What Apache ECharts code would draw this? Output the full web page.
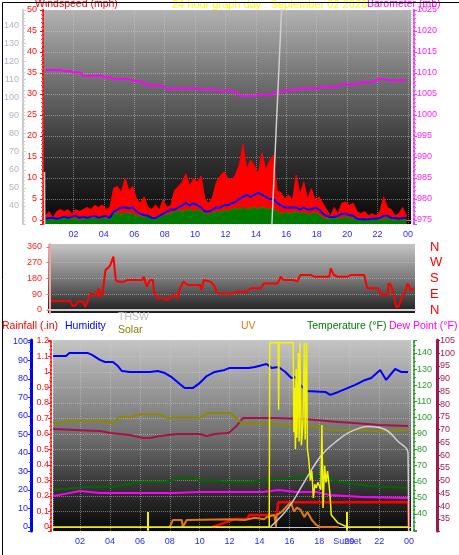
<!DOCTYPE html>
<html><head><meta charset="utf-8">
<script src="https://cdn.jsdelivr.net/npm/echarts@6/dist/echarts.min.js"></script>
<style>html,body{margin:0;padding:0;background:#fff}#c{width:459px;height:555px}</style>
</head><body><div id="c"></div>
<script>
// ---------------- DATA ----------------
const hourTickLabels = ['02','04','06','08','10','12','14','16','18','20','22','00'];
const dirTicks = [0, 90, 180, 270, 360];
const compassLabels = {0: 'N', 90: 'E', 180: 'S', 270: 'W', 360: 'N'};
const sunEventHours = [6.55, 19.86];
const sunsetLabel = 'Sunset';

// wind, 15-minute slots starting 00:09
const windStartHour = 0.15, windSlotHours = 0.25;
const windGust = [1,2,0.5,2,2.5, 2,2.5,1.5,2.5,2,2.5, 3,2.5,3.5,3,3.6,2.5,3, 7.6, 8,6.5,10,7,8, 5,4,5.5,
  3,2.5,3.6,2.4,4.8,3,3.5, 7,8,9, 11,8,10,9,10.5, 5,4,5.5, 9,10.5,11.5,
  10,9.5,10.7,13,18,12,14.3,13,11,16,12,14,15.5,7,6.5,5,6,4.5,10.7,6,9,5,7.5,4.5,5.5,4,2.5,1,3,1.5,
  4,4.3,3.5,4,2,1.5,2,1,1.5,1,2,5.5,3,2.5,1,1.5,3,1];
const windAvg = [0.3,0.5,0.5,0.3,0.5, 0.8,0.5,0.8,1,0.5,0.8, 0.5,0.8,1,0.5,0.8,1,0.5, 2, 2.5,3,3,2.8,3, 2,1.5,1.2,
  1,0.5,0.5,1,1.5,2,2.5, 2.5,3,3.5, 4,3.5,4,3.5,3, 2,2,2.5, 3,3,3.5,3.5, 4,4.3,5,
  5.5,6,5.5,6,6.5,6,5.5,5,5, 4,3.5,3,3,3, 3,2.5,3,2.5,2.5,3,2.5, 1.5,1,0.7,0.7,1, 1.5,1.5,1.2,1,
  0.3,0.2,0.2,0.2,0.3,0.3,0.5, 1,1, 0.5,0.5,0.3,0.5,0.5];
const windSpeed = [0.2,0.3,0,0.3,0.2,0.3,0.5,0.2,0.3,0,0.3,0.2,0.5,0.3,0.2,0.5,0.3,0.2,
  1.5,1.7,1.3,1.7,1.5,1.6, 0.8,1,0.5,1,0.7,0.3,0.5,1,1.3,1.5, 2,2.2,2,2.3,2.5,2,2.4,2,
  1.5,1.3,1.7,2,1.8,2.3,2, 2.5,2.8,2.5,3,2.5,2.8,3,2.6,3,2.8,2.5,2.8,
  2,1.5,1.8,1.5,1.7,2,1.5,1.8,1.3,1.5,1.7,1.3, 0.5,0.3,0.2,0.5,0.3,0.5,0.7,0.5,0.3,
  0,0,0,0,0,0,0,0.3,0.3,0,0,0,0,0];

const baroHours = [0.16,1.15,1.35,1.8,1.94,2.46,2.66,3.58,3.78,3.97,4.43,4.63,5.55,5.94,6.4,6.86,7.71,8.17,10.14,10.34,10.8,10.86,11.0,11.46,12.31,12.7,12.9,14.02,14.22,15.07,15.33,15.73,15.99,16.65,16.84,17.96,18.35,19.27,19.66,20.58,20.98,21.63,22.09,22.29,22.75,23.9];
const baroValues = [1010.7,1010.7,1010.5,1010.5,1010.1,1010.1,1009.3,1009.3,1009.5,1009.0,1009.0,1008.6,1008.6,1008.1,1008.1,1007.1,1007.1,1006.3,1006.3,1006.1,1006.1,1006.5,1006.2,1005.8,1005.8,1005.5,1004.6,1004.6,1004.9,1004.9,1005.5,1005.5,1005.95,1005.95,1006.3,1006.3,1006.7,1006.7,1007.3,1007.3,1007.8,1007.8,1008.6,1008.6,1008.3,1008.3];

const thswTopHours = [0.1, 0.12, 15.0, 15.75];
const thswTopValues = [58.8, 20, 20, 160];

const dirHours = [0.1,1.35,1.5,1.7,1.85,2.2,2.35,2.5,2.7,2.95,3.15,3.22,3.36,3.5,3.68,3.82,4.0,4.2,4.3,4.36,4.5,4.9,5.1,6.1,6.2,6.4,6.6,6.8,6.86,7.1,7.5,7.75,7.95,8.15,8.4,8.6,8.8,9.1,9.9,10.0,10.15,10.6,10.8,11.05,12.1,12.3,13.0,13.2,13.9,14.1,15.0,15.2,15.4,16.05,16.3,16.5,17.2,17.4,18.4,18.5,18.7,18.95,19.6,19.8,20.7,20.9,21.6,21.8,22.25,22.3,22.45,22.6,22.8,22.95,23.2,23.4,23.55,23.75,24.0];
const dirValues = [51,51,25,25,48,48,19,48,95,86,86,124,76,100,229,238,257,305,295,171,162,162,171,171,190,133,171,171,105,67,67,57,76,86,67,124,162,143,143,114,171,162,143,95,95,105,105,124,124,152,152,190,171,171,162,200,200,190,190,238,200,190,190,200,200,124,124,86,86,152,143,105,19,19,76,105,152,114,124];

const humHours = [0.2,1.07,1.27,2.53,2.8,3.33,3.67,4.2,4.53,4.8,5.33,6.67,7.2,7.67,8.13,8.67,9.0,9.53,10.0,10.47,11.0,11.67,12.0,13.27,13.7,14.47,14.8,15.27,15.73,16.13,16.4,16.73,17.13,18.4,18.73,19.27,20.4,21.07,21.47,22.07,22.47,23.07,23.47,23.93];
const humValues = [92.4,92.4,94,94,93,90.3,89.2,89.2,87,84.3,83.8,83.8,84.3,83.2,81,77.3,75.1,75.1,77.8,81.6,83.8,84.9,86,86,86.5,88.1,86,86.5,83.8,80.5,81,76.8,73.5,73,71.4,73,76.8,79.5,80.5,84.9,79.5,85.4,83.8,83.8];

const rainHours = [10.85,11.3,11.6,12.0,12.4,13.2,13.3,15.15,15.25,23.95,24.0];
const rainValues = [0,0.015,0.025,0.04,0.052,0.052,0.077,0.077,0.16,0.16,0];

const tempHours = [0.2,2.67,4.33,5.33,6.0,7.67,8.33,9.0,10.0,11.0,11.93,13.33,14.67,15.67,16.67,17.67,18.5,19.33,20.67,22.0,23.93];
const tempValues = [55,56.9,56.9,58.8,60,60,61.3,63.1,61.3,60.6,60,60,61.3,61.9,63.1,63.75,62.5,60,58.1,56.9,56.25];

const dewHours = [0.2,1.0,2.0,3.34,8.2,10.0,12.0,14.2,15.3,16.4,17.8,18.7,20.9,23.95];
const dewValues = [51.2,52.5,54.3,53,53,53.7,53.7,53.7,54.9,53.7,53.7,51.8,50.6,49.9];

const inTempHours = [0.2,2.0,3.33,4.0,5.33,6.2,6.67,7.33,8.47,10.0,10.47,11.0,11.93,12.4,12.9,15.0,17.0,19.27,20.33,22.0,23.93];
const inTempValues = [70.2,69.8,69.5,68.7,67.9,66.7,66.7,67.5,68.3,68.3,67.5,68.3,68.7,71,74.6,74.6,74.2,73,72.6,71.8,71.4];

const inHumHours = [0.2,0.8,1.1,3.9,4.05,4.3,4.6,5.5,6.0,7.3,7.8,10.0,10.5,12.0,12.4,12.9,13.5,15.0,16.0,17.0,18.0,19.0,20.5,22.0,23.95];
const inHumValues = [56.2,56.2,57.3,57.3,56.2,56.2,59.5,59.5,61,61,59,59,61.6,61.6,59,55.7,56.2,55.7,54.6,54.6,54.1,52.4,52.4,51.9,52.4];

const uvHours = [8.0,8.2,8.8,8.87,9.0,9.13,12.0,13.0,13.7,14.3,14.5,15.0,15.1,15.15,15.5,15.85,16.1,16.3,16.5,16.75,17.0,17.2,17.5,17.8,18.05,19.3];
const uvValues = [0,0.45,0.45,0,0,0.45,0.5,0.45,0.6,0.5,0.65,0.77,0,0.75,1.0,1.35,1.6,1.0,1.25,1.1,0.65,0.97,0.45,0.13,0,0];

const solarHours = [0.19,14.65,14.68,15.25,15.28,15.31,16.25,16.3,16.35,16.4,16.45,16.5,16.6,16.65,16.7,16.8,16.9,17.0,17.05,17.15,17.2,17.3,17.4,17.5,17.6,17.7,17.8,17.9,18.1,18.17,18.25,18.35,18.45,18.55,18.7,18.8,19.25,19.85,24.0];
const solarValues = [0,0,990,990,630,990,990,510,750,420,850,480,935,460,990,440,560,990,470,990,420,360,250,300,156,230,210,240,200,548,102,330,240,300,188,65,22,0,0];

const thswHours = [14.73,15.93,17.0,18.13,19.2,20.13,21.27,22.4,23.27,23.93,23.97];
const thswValues = [31.9,43.8,60,76.3,85.6,91.3,94.4,92.5,85,78.1,20];

// ---------------- HELPERS ----------------
const zip = (h, v) => h.map((t, i) => [t, v[i]]);
const windHours = windGust.map((_, i) => windStartHour + i * windSlotHours);
const FONT = 'Liberation Sans, Arial, sans-serif';
const mult = (step, minV) => v => {
  const k = Math.round(v / step);
  if (Math.abs(v - k * step) > step * 1e-3) return '';
  if (minV != null && v < minV - 1e-9) return '';
  return String(+(k * step).toFixed(2));
};
const hourFmt = v => {
  const r = Math.round(v);
  if (Math.abs(v - r) > 1e-3 || r % 2 !== 0 || r <= 0) return '';
  return hourTickLabels[r / 2 - 1] || '';
};
const grad = stops => ({type: 'linear', x: 0, y: 0, x2: 0, y2: 1,
  colorStops: stops.map(s => ({offset: s[0], color: s[1]}))});
const dotted = {show: true, lineStyle: {color: 'rgba(205,205,205,0.5)', type: 'dotted', width: 1}};

const chart = echarts.init(document.getElementById('c'), null, {renderer: 'canvas'});

const lineS = (name, xi, yi, data, color, width, extra) => Object.assign({
  name, type: 'line', xAxisIndex: xi, yAxisIndex: yi, data, symbol: 'none',
  lineStyle: {color, width}, itemStyle: {color}, animation: false, silent: true
}, extra || {});

const title = (text, left, top, fill, size) => ({type: 'text', left, top, z: 50,
  style: {text, fill, font: (size || 10.5) + 'px ' + FONT}});

const option = {
  animation: false,
  backgroundColor: '#ffffff',
  textStyle: {fontFamily: FONT},
  grid: [
    {left: 43, top: 10, width: 368, height: 214, show: true, borderWidth: 0,
      backgroundColor: grad([[0, '#b2b2b2'], [0.35, '#6c6c6c'], [0.65, '#363636'], [1, '#060606']])},
    {left: 48, top: 244, width: 367, height: 69, show: true, borderWidth: 0,
      backgroundColor: grad([[0, '#c4c4c4'], [0.5, '#7a7a7a'], [1, '#1c1c1c']])},
    {left: 53, top: 340, width: 358, height: 191, show: true, borderWidth: 0,
      backgroundColor: grad([[0, '#c4c4c4'], [0.5, '#707070'], [0.75, '#383838'], [1, '#070707']])}
  ],
  xAxis: [
    {type: 'value', gridIndex: 0, min: 0, max: 24.2, splitNumber: 12,
      axisLine: {show: true, lineStyle: {color: '#9a9a9a', width: 1}}, axisTick: {show: false},
      axisLabel: {formatter: hourFmt, color: '#2a2aff', fontSize: 9, margin: 6, fontFamily: FONT},
      splitLine: dotted},
    {type: 'value', gridIndex: 1, min: -0.1, max: 24.04, splitNumber: 12,
      axisLine: {show: true, lineStyle: {color: '#d0d0d0', width: 2}}, axisTick: {show: false},
      axisLabel: {show: false}, splitLine: {show: false}},
    {type: 'value', gridIndex: 2, min: 0.19, max: 24.13, splitNumber: 12,
      axisLine: {show: true, lineStyle: {color: '#c8c8c8', width: 1}}, axisTick: {show: false},
      axisLabel: {formatter: hourFmt, color: '#2a2aff', fontSize: 9, margin: 6, fontFamily: FONT},
      splitLine: dotted},
    {type: 'value', gridIndex: 2, position: 'bottom', min: 0.19, max: 24.13,
      axisLine: {show: false}, axisTick: {show: false}, splitLine: {show: false},
      axisLabel: {customValues: [sunEventHours[1]], formatter: () => sunsetLabel,
        color: '#2a2aff', fontSize: 9, margin: 6, fontFamily: FONT}}
  ],
  yAxis: [
    {type: 'value', gridIndex: 0, position: 'left', offset: 3, min: -0.952, max: 50, splitNumber: 10,
      axisLine: {show: true, lineStyle: {color: '#ff1010', width: 2, type: [2, 2]}},
      axisTick: {show: true, length: 3, lineStyle: {color: '#ff1010'}},
      minorTick: {show: true, splitNumber: 5, length: 2, lineStyle: {color: '#ff5050'}},
      axisLabel: {formatter: mult(5), color: '#ff1010', fontSize: 9, margin: 3, fontFamily: FONT},
      splitLine: dotted},
    {type: 'value', gridIndex: 0, position: 'left', offset: 20, min: 30.06, max: 148.3, splitNumber: 12,
      axisLine: {show: true, lineStyle: {color: '#cccccc', width: 2}},
      axisTick: {show: true, inside: true, length: 3, lineStyle: {color: '#cccccc'}},
      minorTick: {show: true, splitNumber: 5, length: 2, lineStyle: {color: '#d0d0d0'}},
      axisLabel: {formatter: mult(10, 40), color: '#b4b4c4', fontSize: 9, margin: 4, fontFamily: FONT},
      splitLine: {show: false}},
    {type: 'value', gridIndex: 0, position: 'right', offset: 3, min: 974.048, max: 1025, splitNumber: 10,
      axisLine: {show: true, lineStyle: {color: '#ff30ff', width: 2, type: [2, 2]}},
      axisTick: {show: true, length: 3, lineStyle: {color: '#ff30ff'}},
      minorTick: {show: true, splitNumber: 5, length: 2, lineStyle: {color: '#ff60ff'}},
      axisLabel: {formatter: mult(5), color: '#ff20ff', fontSize: 9, margin: 3, fontFamily: FONT},
      splitLine: {show: false}},
    {type: 'value', gridIndex: 1, position: 'left', offset: 0, min: -17.1, max: 377.1,
      axisLine: {show: true, lineStyle: {color: '#ff9c9c', width: 2}},
      axisTick: {show: true, customValues: dirTicks, length: 3, lineStyle: {color: '#ff6060'}},
      axisLabel: {customValues: dirTicks, color: '#ff2020', fontSize: 9, margin: 6, fontFamily: FONT},
      splitLine: dotted},
    {type: 'value', gridIndex: 1, position: 'right', min: -17.1, max: 377.1,
      axisLine: {show: false}, axisTick: {show: false}, splitLine: {show: false},
      axisLabel: {customValues: dirTicks, formatter: v => compassLabels[Math.round(v)] || '',
        color: '#ff0000', fontSize: 13, margin: 15, fontFamily: FONT}},
    {type: 'value', gridIndex: 2, position: 'left', offset: 22, min: -2.16, max: 101.08, splitNumber: 10,
      axisLine: {show: true, lineStyle: {color: '#0000ff', width: 3}},
      axisTick: {show: true, length: 3, lineStyle: {color: '#2020ff'}},
      minorTick: {show: true, splitNumber: 2, length: 2, lineStyle: {color: '#4040ff'}},
      axisLabel: {formatter: mult(10), color: '#2020ff', fontSize: 9, margin: 3, fontFamily: FONT},
      splitLine: {show: false}},
    {type: 'value', gridIndex: 2, position: 'left', offset: 2, min: -0.0258, max: 1.2065, splitNumber: 12,
      axisLine: {show: true, lineStyle: {color: '#ff2020', width: 2, type: [2, 2]}},
      axisTick: {show: true, length: 3, lineStyle: {color: '#ff2020'}},
      minorTick: {show: true, splitNumber: 2, length: 2, lineStyle: {color: '#ff5050'}},
      axisLabel: {formatter: mult(0.1), color: '#ff1010', fontSize: 9, margin: 2, fontFamily: FONT},
      splitLine: dotted},
    {type: 'value', gridIndex: 2, position: 'right', offset: 3, min: 29.44, max: 148.07, splitNumber: 12,
      axisLine: {show: true, lineStyle: {color: '#30a030', width: 2, type: [2, 2]}},
      axisTick: {show: true, length: 3, lineStyle: {color: '#30a030'}},
      minorTick: {show: true, splitNumber: 2, length: 2, lineStyle: {color: '#40b040'}},
      axisLabel: {formatter: mult(10, 40), color: '#2e9a2e', fontSize: 9, margin: 3, fontFamily: FONT},
      splitLine: {show: false}},
    {type: 'value', gridIndex: 2, position: 'right', offset: 26, min: 30.3, max: 105.1, splitNumber: 15,
      axisLine: {show: true, lineStyle: {color: '#a01848', width: 3}},
      axisTick: {show: true, length: 3, lineStyle: {color: '#a01848'}},
      minorTick: {show: true, splitNumber: 2, length: 2, lineStyle: {color: '#a01848'}},
      axisLabel: {formatter: mult(5, 35), color: '#a0205a', fontSize: 9, margin: 3, fontFamily: FONT},
      splitLine: {show: false}},
    {type: 'value', gridIndex: 2, show: false, min: -21.5, max: 1005.4, splitLine: {show: false}},
    {type: 'value', gridIndex: 2, show: false, min: -0.258, max: 12.06, splitLine: {show: false}}
  ],
  series: [
    lineS('Gust', 0, 0, zip(windHours, windGust), '#ff0000', 1,
      {areaStyle: {color: '#ff0000', opacity: 1, origin: 'start'}}),
    lineS('Speed', 0, 0, zip(windHours, windSpeed), '#009000', 1,
      {areaStyle: {color: '#007a00', opacity: 1, origin: 'start'}}),
    lineS('Average', 0, 0, zip(windHours, windAvg), '#0000ff', 2),
    lineS('Barometer', 0, 2, zip(baroHours, baroValues), '#ff00ff', 2),
    lineS('THSW top', 0, 1, zip(thswTopHours, thswTopValues), '#cfcfcf', 1.5),
    lineS('Direction', 1, 3, zip(dirHours, dirValues), '#ff0000', 2),
    lineS('Rain', 2, 6, zip(rainHours, rainValues), '#ff0000', 2.5),
    lineS('UV', 2, 10, zip(uvHours, uvValues), '#e07818', 2),
    lineS('Temperature', 2, 7, zip(tempHours, tempValues), '#006a00', 2),
    lineS('Dew Point', 2, 7, zip(dewHours, dewValues), '#ff00ff', 2),
    lineS('Inside Temp', 2, 8, zip(inTempHours, inTempValues), '#a8104a', 2),
    lineS('Inside Hum', 2, 5, zip(inHumHours, inHumValues), '#8a8a00', 2),
    lineS('Humidity', 2, 5, zip(humHours, humValues), '#0000ff', 2),
    lineS('THSW', 2, 7, zip(thswHours, thswValues), '#cfcfcf', 1.5, {smooth: 0.4}),
    lineS('Solar', 2, 9, zip(solarHours, solarValues), '#f4f400', 1.5, {
      markLine: {silent: true, symbol: 'none', animation: false, label: {show: false},
        lineStyle: {color: '#f4f400', width: 2, type: 'solid'},
        data: sunEventHours.map(h => [{coord: [h, -20]}, {coord: [h, 80]}])}})
  ],
  graphic: [
    title('Windspeed (mph)', 35, -1, '#ff0000'),
    title('24 hour graph day : September 02 2026', 172, -1, '#ffff00', 11),
    title('Barometer (mb)', 367, -1, '#ff00ff'),
    title('Rainfall (.in)', 2, 321, '#ff0000'),
    title('Humidity', 65, 321, '#0000ff'),
    title('THSW', 118, 312, '#c0c0c0'),
    title('Solar', 118, 325, '#808000'),
    title('UV', 241, 321, '#e07818'),
    title('Temperature (°F)', 307, 321, '#007a00'),
    title('Dew Point (°F)', 389, 321, '#ff00ff'),
    {type: 'rect', left: 0, top: 0, z: 100, shape: {width: 458, height: 554},
      style: {fill: 'none', stroke: '#000000', lineWidth: 1}, silent: true}
  ]
};
chart.setOption(option);
</script></body></html>
